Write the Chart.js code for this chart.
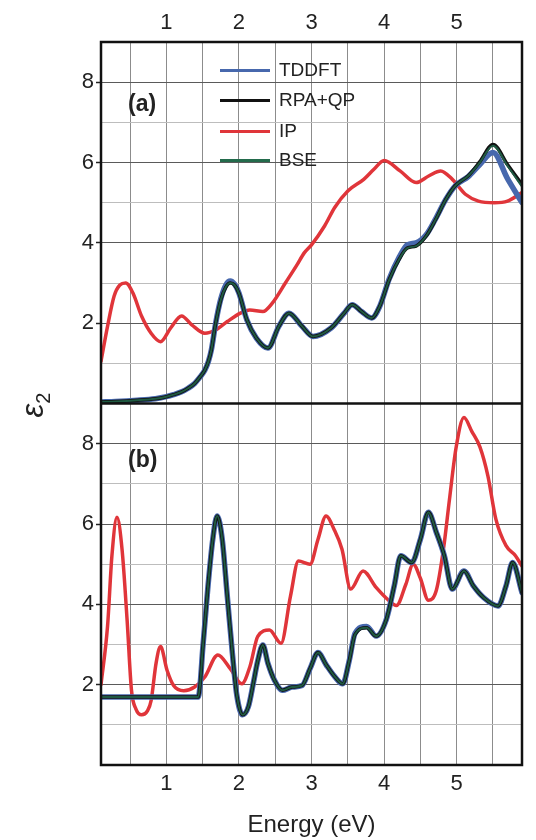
<!DOCTYPE html>
<html>
<head>
<meta charset="utf-8">
<script src="https://cdn.jsdelivr.net/npm/chart.js@4.4.1/dist/chart.umd.min.js"></script>
<style>
  body { margin: 0; background: #fff; }
  #wrap { position: relative; width: 536px; height: 840px; font-family: "Liberation Sans", Arial, sans-serif; color: #222; }
  canvas { position: absolute; left: 0; top: 0; }
  .lg { position: absolute; left: 220px; width: 50px; height: 3px; }
  .lt { position: absolute; left: 279px; font-size: 19px; line-height: 20px; }
  .pl { position: absolute; left: 128px; font-size: 23px; font-weight: bold; }
  #eps { position: absolute; left: 35px; top: 405px; font-size: 31px; transform: translate(-50%, -50%) rotate(-90deg); white-space: nowrap; }
  #eps sub { font-size: 20px; font-style: normal; }
</style>
</head>
<body>
<div id="wrap">
  <canvas id="chart" width="536" height="840"></canvas>
  <div class="lg" style="top:69px;background:#4768ad"></div><div class="lt" style="top:60px">TDDFT</div>
  <div class="lg" style="top:99px;background:#111"></div><div class="lt" style="top:90px">RPA+QP</div>
  <div class="lg" style="top:130px;background:#e0353a"></div><div class="lt" style="top:121px">IP</div>
  <div class="lg" style="top:159px;background:#236b4c"></div><div class="lt" style="top:150px">BSE</div>
  <div class="pl" style="top:90px">(a)</div>
  <div class="pl" style="top:446px">(b)</div>
  <div id="eps"><i>ε</i><sub>2</sub></div>
</div>
<script>
// tick values
const tickEnergy = [0.5, 1, 1.5, 2, 2.5, 3, 3.5, 4, 4.5, 5, 5.5];
const tickEps = [1, 2, 3, 4, 5, 6, 7, 8];

// panel (a)
const energyIpA = [0.1, 0.19, 0.28, 0.36, 0.44, 0.54, 0.66, 0.79, 0.92, 1.06, 1.21, 1.35, 1.53, 1.68, 1.84, 2.02, 2.15, 2.33, 2.46, 2.64,
  2.8, 2.9, 3.0, 3.18, 3.32, 3.5, 3.72, 3.86, 4.0, 4.22, 4.44, 4.62, 4.78, 4.94, 5.12, 5.3, 5.52, 5.7, 5.9];
const ipA = [1.05, 1.92, 2.67, 2.95, 3.0, 2.75, 2.17, 1.75, 1.54, 1.88, 2.18, 1.96, 1.75, 1.83, 2.04, 2.25, 2.33, 2.29, 2.5, 3.0,
  3.45, 3.75, 3.95, 4.42, 4.88, 5.29, 5.58, 5.83, 6.05, 5.79, 5.5, 5.67, 5.79, 5.58, 5.21, 5.04, 5.0, 5.04, 5.25];

const energyA = [0.1, 0.3, 0.6, 0.85, 1.0, 1.1, 1.21, 1.3, 1.39, 1.46, 1.53, 1.58, 1.62, 1.68, 1.75, 1.82, 1.88, 1.94, 2.0, 2.11,
  2.24, 2.4, 2.55, 2.69, 2.87, 3.02, 3.27, 3.45, 3.56, 3.69, 3.83, 3.94, 4.07, 4.21, 4.32, 4.44, 4.58, 4.71, 4.85, 4.98,
  5.16, 5.32, 5.5, 5.7, 5.9];
const bseA = [0.04, 0.05, 0.08, 0.12, 0.17, 0.22, 0.29, 0.38, 0.5, 0.65, 0.83, 1.05, 1.33, 2.0, 2.58, 2.9, 3.0, 2.95, 2.75, 2.08,
  1.63, 1.38, 1.92, 2.25, 1.92, 1.67, 1.88, 2.25, 2.46, 2.29, 2.13, 2.42, 3.08, 3.6, 3.87, 3.92, 4.17, 4.58, 5.08, 5.42,
  5.67, 6.0, 6.42, 5.92, 5.4];
const rpaA = [0.04, 0.05, 0.08, 0.12, 0.17, 0.22, 0.29, 0.38, 0.5, 0.65, 0.83, 1.05, 1.33, 2.0, 2.58, 2.9, 3.0, 2.95, 2.75, 2.08,
  1.63, 1.38, 1.92, 2.25, 1.92, 1.67, 1.88, 2.25, 2.46, 2.29, 2.13, 2.42, 3.08, 3.6, 3.87, 3.92, 4.17, 4.58, 5.08, 5.42,
  5.67, 6.02, 6.45, 5.95, 5.45];
const tddftA = [0.04, 0.05, 0.08, 0.12, 0.17, 0.22, 0.29, 0.38, 0.5, 0.65, 0.83, 1.05, 1.33, 2.0, 2.6, 2.95, 3.05, 2.97, 2.75, 2.08,
  1.63, 1.38, 1.92, 2.25, 1.92, 1.67, 1.88, 2.25, 2.46, 2.29, 2.13, 2.42, 3.1, 3.65, 3.95, 4.0, 4.2, 4.6, 5.08, 5.42,
  5.65, 5.95, 6.25, 5.6, 5.0];

// panel (b)
const energyIpB = [0.1, 0.19, 0.25, 0.32, 0.39, 0.46, 0.52, 0.58, 0.66, 0.74, 0.79, 0.86, 0.92, 1.01, 1.1, 1.24, 1.39, 1.53, 1.71, 1.88,
  2.04, 2.15, 2.26, 2.42, 2.58, 2.71, 2.82, 2.98, 3.09, 3.2, 3.31, 3.42, 3.54, 3.71, 3.89, 4.05, 4.17, 4.3, 4.4, 4.5,
  4.61, 4.72, 4.82, 4.9, 4.99, 5.1, 5.21, 5.32, 5.43, 5.54, 5.68, 5.81, 5.9];
const ipB = [2.0, 3.45, 5.2, 6.17, 5.37, 3.6, 1.86, 1.4, 1.25, 1.35, 1.6, 2.55, 2.95, 2.36, 1.98, 1.85, 1.94, 2.19, 2.74, 2.4,
  2.02, 2.44, 3.2, 3.36, 3.03, 4.2, 5.08, 5.0, 5.62, 6.2, 5.87, 5.37, 4.38, 4.83, 4.42, 4.12, 3.97, 4.5, 5.0, 4.65,
  4.1, 4.35, 5.4, 6.6, 7.88, 8.65, 8.3, 7.92, 7.2, 6.12, 5.46, 5.21, 4.95];

const energyB = [0.1, 0.5, 1.0, 1.44, 1.47, 1.5, 1.57, 1.64, 1.7, 1.77, 1.84, 1.91, 1.97, 2.05, 2.13, 2.2, 2.26, 2.33, 2.4, 2.49,
  2.6, 2.73, 2.87, 2.98, 3.09, 3.2, 3.32, 3.43, 3.52, 3.6, 3.76, 3.89, 4.03, 4.14, 4.23, 4.38, 4.5, 4.61, 4.72, 4.83,
  4.94, 5.1, 5.23, 5.37, 5.57, 5.68, 5.77, 5.9];
const bseB = [1.69, 1.69, 1.69, 1.69, 2.1, 2.86, 4.37, 5.62, 6.2, 5.62, 4.2, 2.78, 1.75, 1.25, 1.45, 2.05, 2.6, 2.99, 2.53, 2.11,
  1.86, 1.94, 1.98, 2.4, 2.8, 2.5, 2.2, 2.02, 2.6, 3.25, 3.42, 3.21, 3.62, 4.46, 5.21, 5.04, 5.62, 6.29, 5.79, 5.21,
  4.38, 4.83, 4.46, 4.17, 3.96, 4.46, 5.04, 4.29];
const rpaB = [1.69, 1.69, 1.69, 1.69, 2.1, 2.86, 4.37, 5.62, 6.2, 5.62, 4.2, 2.78, 1.75, 1.25, 1.45, 2.05, 2.6, 2.99, 2.53, 2.11,
  1.86, 1.94, 1.98, 2.4, 2.8, 2.5, 2.2, 2.02, 2.6, 3.25, 3.42, 3.21, 3.62, 4.46, 5.21, 5.04, 5.62, 6.29, 5.79, 5.21,
  4.38, 4.83, 4.46, 4.17, 3.96, 4.46, 5.04, 4.29];
const tddftB = [1.69, 1.69, 1.69, 1.69, 2.1, 2.86, 4.37, 5.62, 6.2, 5.62, 4.2, 2.78, 1.75, 1.25, 1.45, 2.05, 2.6, 2.99, 2.53, 2.11,
  1.86, 1.94, 1.98, 2.4, 2.8, 2.5, 2.2, 2.02, 2.6, 3.28, 3.45, 3.21, 3.62, 4.46, 5.21, 5.04, 5.62, 6.29, 5.79, 5.21,
  4.38, 4.83, 4.46, 4.17, 3.96, 4.46, 5.04, 4.29];

const colTDDFT = '#4768ad';
const colRPA = '#111';
const colIP = '#e0353a';
const colBSE = '#1f5a42';
const fontFam = '"Liberation Sans", Arial, sans-serif';

function pts(xs, ys) {
  return xs.map((x, i) => ({ x: x, y: ys[i] }));
}

// first dataset is drawn on top
const datasets = [
  { label: 'BSE', data: pts(energyA, bseA), yAxisID: 'ya', borderColor: colBSE, borderWidth: 2 },
  { label: 'RPA+QP', data: pts(energyA, rpaA), yAxisID: 'ya', borderColor: colRPA, borderWidth: 3.5 },
  { label: 'TDDFT', data: pts(energyA, tddftA), yAxisID: 'ya', borderColor: colTDDFT, borderWidth: 5.5 },
  { label: 'BSE', data: pts(energyB, bseB), yAxisID: 'yb', borderColor: colBSE, borderWidth: 2 },
  { label: 'RPA+QP', data: pts(energyB, rpaB), yAxisID: 'yb', borderColor: colRPA, borderWidth: 3.5 },
  { label: 'TDDFT', data: pts(energyB, tddftB), yAxisID: 'yb', borderColor: colTDDFT, borderWidth: 5.5 },
  { label: 'IP', data: pts(energyIpA, ipA), yAxisID: 'ya', borderColor: colIP, borderWidth: 3.5 },
  { label: 'IP', data: pts(energyIpB, ipB), yAxisID: 'yb', borderColor: colIP, borderWidth: 3.5 }
];

// frame round both panels
const framePlugin = {
  id: 'frame',
  afterDatasetsDraw(chart) {
    const { ctx, chartArea: a, scales } = chart;
    const mid = Math.min(scales.ya.bottom, scales.yb.bottom);
    ctx.save();
    ctx.strokeStyle = '#111';
    ctx.lineWidth = 2.5;
    ctx.strokeRect(a.left, a.top, a.right - a.left, a.bottom - a.top);
    ctx.beginPath();
    ctx.moveTo(a.left, mid);
    ctx.lineTo(a.right, mid);
    ctx.stroke();
    ctx.restore();
  }
};

function yScale() {
  return {
    type: 'linear',
    position: 'left',
    stack: 'panels',
    stackWeight: 1,
    min: 0,
    max: 9,
    afterBuildTicks: s => { s.ticks = tickEps.map(v => ({ value: v })); },
    afterFit: s => { s.width = 101; },
    ticks: {
      callback: v => (v % 2 === 0 ? v : ''),
      font: { size: 22, family: fontFam },
      color: '#222',
      padding: 2
    },
    grid: {
      color: c => (c.tick && c.tick.value % 2 === 0 ? '#5a5a5a' : '#bdbdbd'),
      tickColor: c => (c.tick && c.tick.value % 2 === 0 ? '#222' : 'rgba(0,0,0,0)'),
      tickLength: 5,
      tickWidth: 1.5
    },
    border: { display: false }
  };
}

const ctx = document.getElementById('chart').getContext('2d');
new Chart(ctx, {
  type: 'line',
  data: { datasets: datasets },
  options: {
    responsive: false,
    animation: false,
    layout: { padding: { left: 0, right: 14, top: 0, bottom: 0 } },
    plugins: { legend: { display: false }, tooltip: { enabled: false } },
    elements: {
      point: { radius: 0 },
      line: { tension: 0.4, cubicInterpolationMode: 'monotone', borderCapStyle: 'round', borderJoinStyle: 'round' }
    },
    scales: {
      x: {
        type: 'linear',
        position: 'bottom',
        min: 0.1,
        max: 5.9,
        afterBuildTicks: s => { s.ticks = tickEnergy.map(v => ({ value: v })); },
        afterFit: s => { s.height = 75; },
        ticks: {
          callback: v => (Number.isInteger(v) ? v : ''),
          font: { size: 22, family: fontFam },
          color: '#222',
          padding: 6,
          maxRotation: 0,
          autoSkip: false
        },
        grid: { color: '#8c8c8c', lineWidth: 1, drawTicks: false },
        border: { display: false },
        title: {
          display: true,
          text: 'Energy (eV)',
          font: { size: 24, family: fontFam },
          color: '#222',
          padding: { top: 0, bottom: 0 }
        }
      },
      xTop: {
        type: 'linear',
        position: 'top',
        min: 0.1,
        max: 5.9,
        afterBuildTicks: s => { s.ticks = tickEnergy.map(v => ({ value: v })); },
        afterFit: s => { s.height = 42; },
        ticks: {
          callback: v => (Number.isInteger(v) ? v : ''),
          font: { size: 22, family: fontFam },
          color: '#222',
          padding: 6,
          maxRotation: 0,
          autoSkip: false
        },
        grid: { display: false, drawTicks: false },
        border: { display: false }
      },
      yb: yScale(),
      ya: yScale()
    }
  },
  plugins: [framePlugin]
});
</script>
</body>
</html>
